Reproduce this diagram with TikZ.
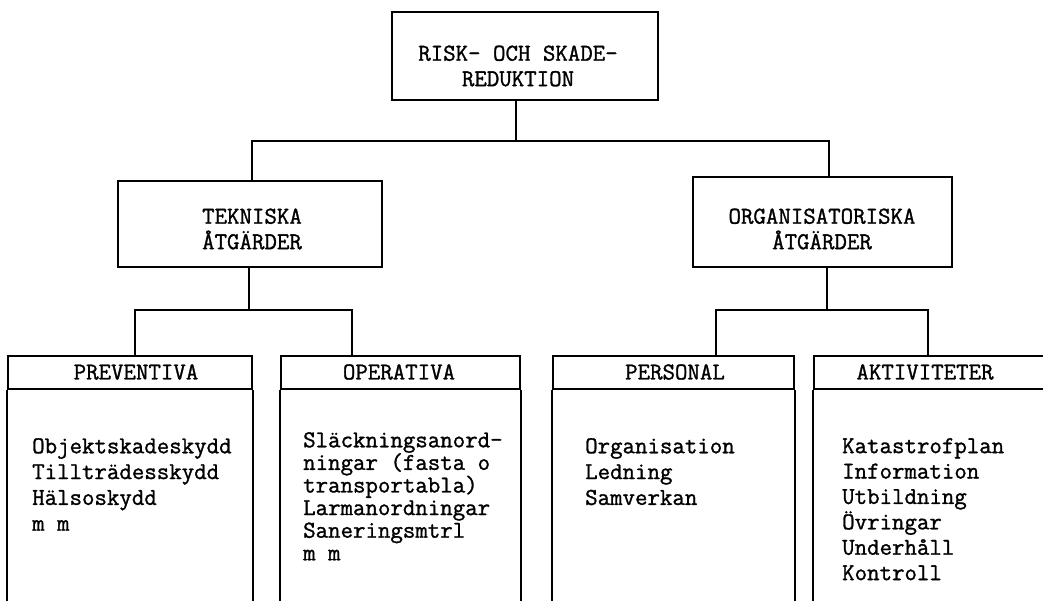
\documentclass[tikz,border=0pt]{standalone}
\usepackage{fontspec}
\newfontfamily\tw{Latin Modern Mono}[FakeBold=1.2]
\usetikzlibrary{calc}
\begin{document}
\begin{tikzpicture}[x=1pt,y=-1pt,
  box/.style={draw, line width=2.2pt, inner sep=0pt},
  lbl/.style={font=\tw\fontsize{24.2}{25.5}\selectfont, align=center, inner sep=0pt},
  body/.style={font=\tw\fontsize{24.2}{#1}\selectfont, align=left, inner sep=0pt, anchor=north west},
  body/.default=25.8,
  conn/.style={line width=2.2pt},
  side/.style={line width=2.2pt}]
\useasboundingbox (0,0) rectangle (1043,600);
\clip (0,0) rectangle (1043,600);
\fill[white] (0,0) rectangle (1043,600);

% top level
\node[box, minimum width=266pt, minimum height=88pt] (top) at (525,56) {};
\node[lbl] (topt) at (518,66) {RISK- OCH SKADE-\\REDUKTION};

% second level
\node[box, minimum width=264pt, minimum height=86pt] (tek) at (250,224) {};
\node[lbl] (tekt) at (252,229) {TEKNISKA\\ÅTGÄRDER};
\node[box, minimum width=259pt, minimum height=90pt] (org) at (822.5,222) {};
\node[lbl] (orgt) at (822,229) {ORGANISATORISKA\\ÅTGÄRDER};

% third level headers
\node[box, minimum width=244pt, minimum height=33pt] (pre) at (130,372.5) {};
\node[lbl] (pret) at (136,372) {PREVENTIVA};
\node[box, minimum width=239pt, minimum height=33pt] (ope) at (400.5,372.5) {};
\node[lbl] (opet) at (399,372) {OPERATIVA};
\node[box, minimum width=241pt, minimum height=33pt] (per) at (673.5,372.5) {};
\node[lbl] (pert) at (675,372) {PERSONAL};
\node[box, minimum width=240pt, minimum height=33pt] (akt) at (934,372.5) {};
\node[lbl] (aktt) at (925,372) {AKTIVITETER};

% open bodies
\coordinate (bot) at (0,610);
\foreach \n in {pre,ope,per,akt}{
  \draw[side] (\n.south west) -- (\n.south west |- bot);
  \draw[side] (\n.south east) -- (\n.south east |- bot);
}

% body texts
\node[body] (preb) at (32,438) {Objektskadeskydd\\Tillträdesskydd\\Hälsoskydd\\m m};
\node[body=22.6] (opeb) at (303,432) {Släckningsanord-\\ningar (fasta o\\transportabla)\\Larmanordningar\\Saneringsmtrl\\m m};
\node[body] (perb) at (585,438) {Organisation\\Ledning\\Samverkan};
\node[body=25.4] (aktb) at (842,438) {Katastrofplan\\Information\\Utbildning\\Övringar\\Underhåll\\Kontroll};

% connectors
\coordinate (j1) at (516,141);
\draw[conn] (top.south -| j1) -- (j1);
\coordinate (tk) at (252,0);
\coordinate (og) at (829,0);
\draw[conn] (tek.north -| tk) -- (tk |- j1) -- (og |- j1) -- (org.north -| og);

\coordinate (j2) at (249,310);
\draw[conn] (tek.south -| j2) -- (j2);
\coordinate (pl) at ($(pre.north)+(5,0)$);
\coordinate (ol) at ($(ope.north)+(-48.5,0)$);
\draw[conn] (pl) -- (pl |- j2) -- (ol |- j2) -- (ol);

\coordinate (j3) at (827,310);
\draw[conn] (org.south -| j3) -- (j3);
\coordinate (prl) at ($(per.north)+(42.5,0)$);
\coordinate (al) at (928,0);
\draw[conn] (prl) -- (prl |- j3) -- (al |- j3) -- (akt.north -| al);
\end{tikzpicture}
\end{document}
